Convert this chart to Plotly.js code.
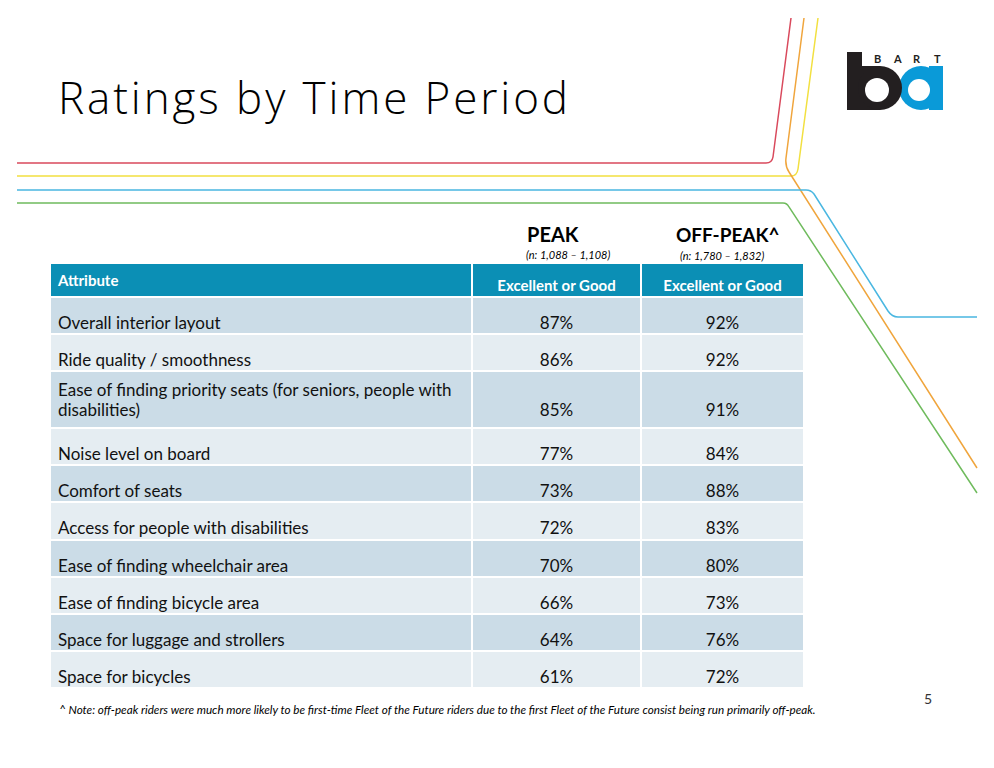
<!DOCTYPE html>
<html><head><meta charset="utf-8">
<script src="https://cdn.plot.ly/plotly-3.0.1.min.js"></script>
<style>html,body{margin:0;padding:0;background:#fff}</style>
</head><body><div id="chart" style="width:994px;height:768px"></div>
<script>
const attributes = [
  'Overall interior layout',
  'Ride quality / smoothness',
  'Ease of finding priority seats (for seniors, people with<br>disabilities)',
  'Noise level on board',
  'Comfort of seats',
  'Access for people with disabilities',
  'Ease of finding wheelchair area',
  'Ease of finding bicycle area',
  'Space for luggage and strollers',
  'Space for bicycles'
];
const peak = [87, 86, 85, 77, 73, 72, 70, 66, 64, 61];
const offPeak = [92, 92, 91, 84, 88, 83, 80, 73, 76, 72];
const headers = ['Attribute', 'Excellent or Good', 'Excellent or Good'];
const periods = ['PEAK', 'OFF-PEAK^'];
const sampleSizes = ['(n: 1,088 – 1,108)', '(n: 1,780 – 1,832)'];
const title = 'Ratings by Time Period';
const footnote = '^ Note: off-peak riders were much more likely to be first-time Fleet of the Future riders due to the first Fleet of the Future consist being run primarily off-peak.';
const pageNumber = '5';

const W = 994, H = 768;
const px = x => x / W;
const py = y => 1 - y / H;
const FONT = 'Lato, "Open Sans", sans-serif';
const WHITE = '#ffffff';
const HEAD = '#0b8fb5';

// cell text helpers: bottom-align single-line text with an empty leading line
const NB = '\u00a0';
const sp = s => '<span style="font-size:17px">' + s + '</span>';
const isMulti = attributes.map(a => a.indexOf('<br>') >= 0);
const attrCell = (a, i) => isMulti[i] ? a.split('<br>').map(sp).join('<br>') : '<br>' + sp(a);
const pctCell = (v, i) => isMulti[i] ? sp(NB) + '<br>' + sp(v + '%') : '<br>' + sp(v + '%');
// invisible spacer column (laid out first, drawn last) that settles the tall row height
const spacerCell = (_, i) => isMulti[i] ? sp(NB) + '<br>' + sp(NB) : '';
const lineSize = attributes.map((_, i) => isMulti[i] ? 15 : 18.5);

const rowColors = attributes.map((_, i) => i % 2 === 0 ? '#cbdce7' : '#e5edf2');
const whiteCol = attributes.map(() => WHITE);

const table = {
  type: 'table',
  domain: {x: [px(50), px(806)], y: [py(740), py(263)]},
  columnorder: [3, 0, 1, 2],
  columnwidth: [2, 422, 169, 163],
  header: {
    values: [
      '',
      '<b>' + headers[0] + '</b>',
      '<br><b>' + headers[1] + '</b>',
      '<br><b>' + headers[2] + '</b>'
    ],
    align: ['left', 'left', 'center', 'center'],
    height: 30,
    fill: {color: [WHITE, HEAD, HEAD, HEAD]},
    line: {color: WHITE, width: 2},
    font: {family: FONT, size: 15, color: WHITE}
  },
  cells: {
    values: [attributes.map(spacerCell), attributes.map(attrCell), peak.map(pctCell), offPeak.map(pctCell)],
    align: ['left', 'left', 'center', 'center'],
    height: 37.2,
    fill: {color: [whiteCol, rowColors, rowColors, rowColors]},
    line: {color: WHITE, width: 2},
    font: {family: FONT, size: [lineSize, lineSize, lineSize, lineSize], color: '#111111'}
  }
};

// decorative route lines (pixel coordinates -> paper)
function path(cmds) {
  return cmds.map(c => c[0] + ' ' + c.slice(1).map((v, i) => i % 2 === 0 ? px(v) : py(v)).join(',')).join(' ');
}
const lineShapes = [
  {color: '#d9495c', d: [['M', 17, 163], ['L', 766, 163], ['Q', 772, 163, 773, 157], ['L', 791, 18]]},
  {color: '#f2e040', d: [['M', 17, 176], ['L', 791, 176], ['Q', 797, 176, 798, 169], ['L', 818, 18]]},
  {color: '#f0a53c', d: [['M', 804, 18], ['L', 786, 158], ['Q', 785, 166, 789, 172], ['L', 977, 468]]},
  {color: '#4ab7e1', d: [['M', 17, 190], ['L', 806, 190], ['Q', 811, 190, 814, 194], ['L', 888, 311], ['Q', 892, 317, 898, 317], ['L', 977, 317]]},
  {color: '#6fbb5d', d: [['M', 17, 203], ['L', 783, 203], ['Q', 787, 203, 789, 207], ['L', 977, 493]]}
].map(s => ({type: 'path', xref: 'paper', yref: 'paper', path: path(s.d), line: {color: s.color, width: 1.5}, layer: 'below'}));

// BART logo
const rect = (x0, y0, x1, y1, c) => ({type: 'rect', xref: 'paper', yref: 'paper', x0: px(x0), x1: px(x1), y0: py(y1), y1: py(y0), fillcolor: c, line: {width: 0}});
const circ = (cx, cy, r, c) => ({type: 'circle', xref: 'paper', yref: 'paper', x0: px(cx - r), x1: px(cx + r), y0: py(cy + r), y1: py(cy - r), fillcolor: c, line: {width: 0}});
const logoShapes = [
  circ(921, 88, 22, '#0a9ad8'),
  rect(929, 66, 943, 110, '#0a9ad8'),
  circ(919, 90, 11, WHITE),
  rect(847, 52, 862, 110, '#231f20'),
  rect(847, 66, 880, 110, '#231f20'),
  circ(880, 88, 22, '#231f20'),
  circ(877, 90, 12, WHITE)
];

const ann = (text, x, y, size, opts = {}) => Object.assign({
  text, x: px(x), y: py(y), xref: 'paper', yref: 'paper', showarrow: false,
  xanchor: 'center', yanchor: 'middle',
  font: {family: FONT, size, color: '#000000'}
}, opts);

const annotations = [
  ann('<span style="letter-spacing:2.9px">' + title + '</span>', 56, 97, 44, {xanchor: 'left', font: {family: '"Open Sans", Lato, sans-serif', size: 44, color: '#000000', weight: 300}}),
  ann('<b>' + periods[0] + '</b>', 553, 234, 20),
  ann('<i>' + sampleSizes[0] + '</i>', 568, 254, 11),
  ann('<b>' + periods[1] + '</b>', 728, 235, 19),
  ann('<i>' + sampleSizes[1] + '</i>', 722, 256, 11),
  ann('<i>' + footnote + '</i>', 57, 709, 11.7, {xanchor: 'left'}),
  ann(pageNumber, 928, 698, 14, {font: {family: FONT, size: 14, color: '#333333'}})
].concat('BART'.split('').map((ch, i) => ann('<b>' + ch + '</b>', 877 + i * 20, 58, 11, {font: {family: FONT, size: 11, color: '#231f20'}})));

const layout = {
  width: W, height: H, autosize: false,
  margin: {l: 0, r: 0, t: 0, b: 0},
  paper_bgcolor: WHITE, plot_bgcolor: WHITE,
  showlegend: false,
  shapes: lineShapes.concat(logoShapes),
  annotations
};

Plotly.newPlot('chart', [table], layout, {displayModeBar: false, staticPlot: true});
</script></body></html>
